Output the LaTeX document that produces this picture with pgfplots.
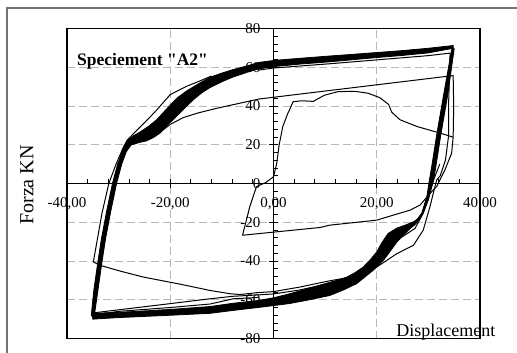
\documentclass[border=0pt]{standalone}
\usepackage{fontspec}
\setmainfont{Liberation Serif}[Ligatures=TeXOff]
\usepackage{pgfplots}
\pgfplotsset{compat=1.18}
\begin{document}
\begin{tikzpicture}[x=1bp,y=1bp]
\path[use as bounding box] (0,0) rectangle (517,352);
\draw[line width=2bp, color=black!55] (7,-20) rectangle (540,344);
\begin{axis}[
  at={(273.5bp,168.5bp)}, anchor=origin, scale only axis,
  width=413bp, height=310bp,
  xmin=-40, xmax=40, ymin=-80, ymax=80,
  axis lines=middle, axis line style={line width=1.2bp, -},
  hide obscured x ticks=false, hide obscured y ticks=false,
  xtick={-40,-20,0,20,40},
  xticklabels={{-40,00},{-20,00},{0,00},{20,00},{40,00}},
  ytick={-80,-60,-40,-20,0,20,40,60,80},
  yticklabels={-80,-60,-40,-20,0,20,40,60,80},
  minor tick num=4,
  tick align=inside, major tick length=9bp, minor tick length=4.5bp,
  every major x tick/.style={yshift=-4.5bp},
  every major y tick/.style={xshift=-4.5bp},
  tick style={black, line width=0.9bp},
  grid=major,
  major grid style={black!28, dash pattern=on 8bp off 4bp, line width=0.9bp},
  xticklabel style={anchor=base, yshift=-24bp, inner sep=0pt, font=\fontsize{15bp}{18bp}\selectfont},
  yticklabel style={anchor=east, xshift=-13bp, inner sep=0pt, font=\fontsize{15bp}{18bp}\selectfont},
  xlabel={Displacement},
  xlabel style={at={(axis description cs:0.797,0.005)}, anchor=base west, inner sep=0pt, font=\fontsize{18bp}{21bp}\selectfont},
  ylabel={Forza KN},
  ylabel style={at={(axis description cs:-0.097,0.495)}, anchor=center, rotate=90, inner sep=0pt, font=\fontsize{20bp}{24bp}\selectfont},
  clip=false,
]
% upper branch band (repeated cycles)
\addplot[fill=black, draw=black, line width=0.8bp] coordinates {
(-35.3,-68) (-34.8,-55) (-34.0,-40) (-33.3,-28) (-32.3,-14) (-31.2,0) (-30.2,10) (-29.0,19) (-28.3,22.5) (-27.2,24.5) (-25.9,26.5) (-24.2,29.5) (-22.6,33) (-20,40.5) (-18.5,44.5) (-16.8,47.8) (-14.2,52) (-12.3,54.8) (-10,57) (-7.8,58.8) (-5,60.8) (-2.8,62.5) (0,63.5) (5,64.6) (10.9,65.8) (15,66.6) (20,67.6) (25,68.6) (30,69.8) (34.8,71.2)
(34.8,69.8) (30,67.4) (25,66.1) (20,65) (15,63.8) (10.9,62.8) (5,61.6) (0,60.3) (-2.8,59.2) (-5,57.5) (-7.8,55) (-10,52.5) (-12.3,49.5) (-13.9,46.8) (-15.5,43.3) (-17,39.5) (-18.8,34.6) (-20.4,30.5) (-22,26) (-23.2,23.8) (-24.6,22) (-26,21.2) (-27.6,19.8) (-28.5,16.5) (-29.4,10) (-30.4,0) (-31.5,-14) (-32.5,-28) (-33.2,-40) (-34.0,-55) (-34.8,-69.8) (-35.3,-68)
};
% lower branch band
\addplot[fill=black, draw=black, line width=0.8bp] coordinates {
(34.6,70.5) (32.9,45) (31.6,25) (30.6,8) (30.2,1.8) (29.7,-6.8) (28.7,-15.4) (27.8,-18.5) (27.1,-19.8) (25.5,-21.5) (23.9,-23) (22.2,-25.8) (21,-30.5) (20,-35.3) (18.7,-39.5) (17.4,-43.1) (15.8,-46) (14.2,-48.3) (12.5,-49.8) (10.9,-51) (7,-54) (3,-57) (0,-59) (-3,-60.4) (-7.8,-61.8) (-12.3,-63.5) (-20,-65) (-30,-66.5) (-35,-67)
(-35,-70) (-30,-69.2) (-20,-68) (-12.3,-67) (-7.8,-65.5) (-3,-64) (0,-63) (3,-62) (7,-60) (10.9,-57.8) (13.5,-55) (16.1,-51.7) (17.6,-48.5) (19.3,-44.8) (21.3,-39.6) (22.6,-35) (23.9,-30.2) (25.2,-26.5) (26.5,-23.2) (27.5,-21) (28.4,-18) (29.2,-14) (30,-8.5) (31.0,1.8) (31.4,8) (32.4,25) (33.7,45) (35.0,69.5) (34.6,70.5)
};
% initial loop
\addplot[black, line width=1bp, line join=round] coordinates {
(-3.3,-1.6) (-1.5,0.5) (0,3.5) (0.6,10) (1.1,20) (1.8,29.4) (2.8,36.4) (3.1,38) (3.8,42.2) (5.4,42.7) (7.7,42.4) (9.9,45.6) (12.5,47.4) (15.7,47.6) (18.3,46.6) (20.6,44.3) (22.3,40.8) (22.9,36.8) (24.5,32.9) (27.8,29.4) (32.3,26) (34.8,23.9) (34.5,15.6) (33.2,7) (31.6,-1.6) (30.3,-5.1) (28.4,-11.1) (26.5,-13.7) (20,-18.9) (10.9,-21.5) (9,-22.7) (-6,-26.7) (-5.5,-21.5) (-4.6,-12) (-3.3,-1.6)
};
% reload line
\addplot[black, line width=1bp, line join=round] coordinates {
(-22.3,25.8) (-20,30.5) (-17.5,34) (-14.5,36.5) (-11,38.8) (-7.8,40.7) (-2.8,43.6) (34.8,55.7) (34.9,40) (34.8,23.9)
};
% first cycle thin line
\addplot[black, line width=1bp, line join=round] coordinates {
(-3,58.5) (0,59.6) (10.9,61.8) (20,63.8) (30,66) (34.2,67.3) (34.1,56) (33.9,40) (33.9,24.3) (33.3,12) (32.3,4) (31.6,1.8) (30.3,-12) (29,-24.1) (27.1,-31.9) (23.9,-36.2) (20,-43.1) (17,-47.5) (14,-48.8) (10.9,-50.2) (5,-53.5) (0,-55.8) (-3,-56.3) (-6.5,-57.3) (-8.4,-56.9) (-12.3,-55.2) (-18,-52) (-25.2,-48.3) (-30,-45) (-33.6,-42.2) (-34.9,-40.5) (-34.2,-30) (-33.2,-15) (-31.9,0) (-30.5,10) (-29.2,18) (-28.3,22.5) (-27.2,25.5) (-25.9,29) (-24.2,33.5) (-22.6,38) (-20,45.9) (-16.8,50.2) (-14.2,53) (-12,55.5)
};
\addplot[black, line width=1bp, line join=round] coordinates {
(32.2,10) (31,1.8) (29,-15.4) (27.4,-23.2) (23.9,-29.3) (21,-37) (20,-41)
};
\addplot[black, line width=1bp, line join=round] coordinates {
(14,-49.5) (10.9,-51.5) (5,-55) (0,-57) (-3,-57.5) (-7.8,-58.2) (-12.3,-59.5) (-20,-62) (-30,-65.2) (-35,-66.8)
};
\addplot[black, line width=1bp, line join=round] coordinates {
(-3,-58.8) (-7.8,-59.5) (-12.3,-62.2) (-20,-64) (-30,-66) (-34,-67.5)
};
\draw[line width=1.5bp] (rel axis cs:0,0) rectangle (rel axis cs:1,1);
\end{axis}
\node[anchor=base west, inner sep=0pt, font=\bfseries\fontsize{17.5bp}{21bp}\selectfont] at (77,287) {Speciement "A2"};
\end{tikzpicture}
\end{document}
